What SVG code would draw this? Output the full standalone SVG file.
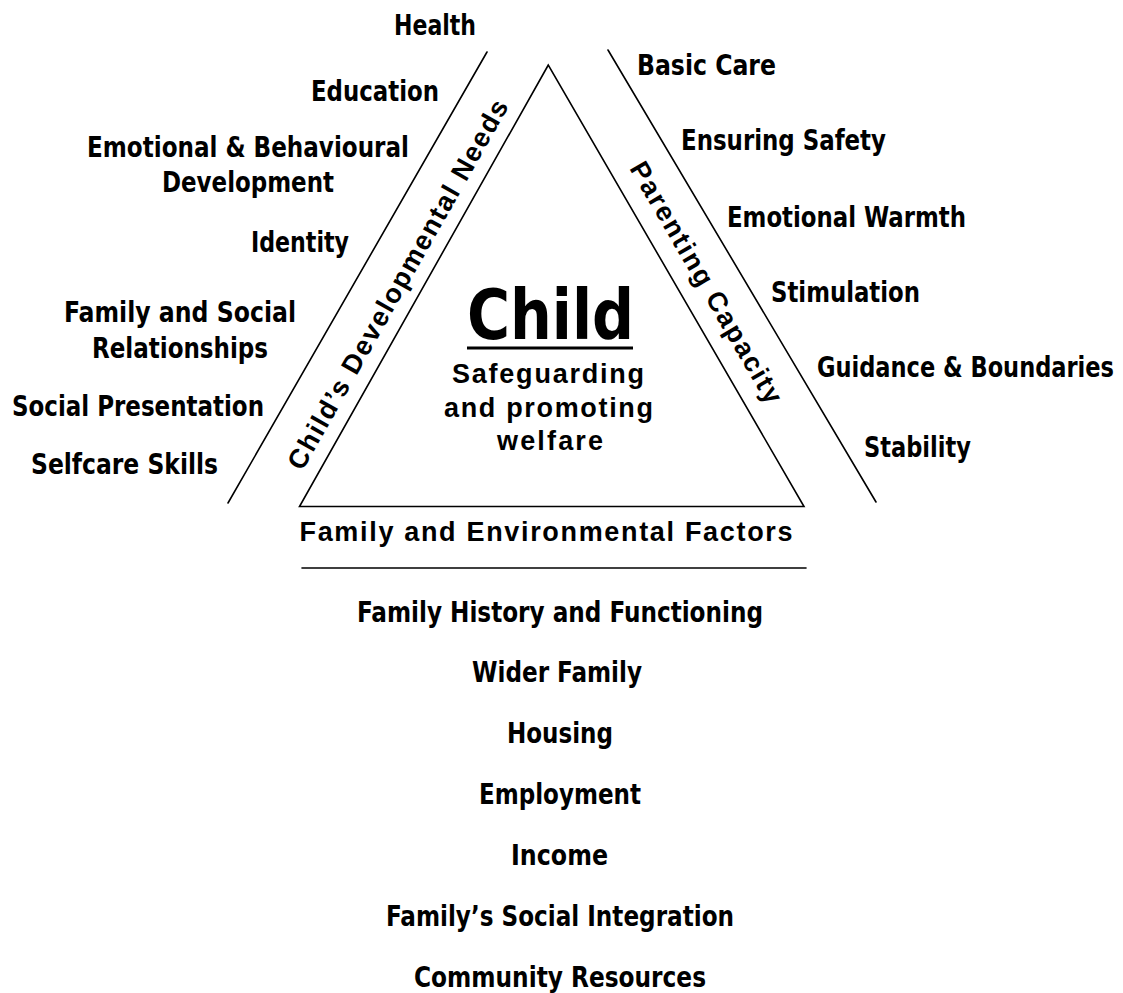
<svg xmlns="http://www.w3.org/2000/svg" width="1123" height="993" viewBox="0 0 1123 993">
<style>
.bg{fill:#ffffff}
.ln{stroke:#000;stroke-width:1.6;fill:none;stroke-linecap:round;stroke-linejoin:miter}
.lbl{font-family:"Liberation Sans Narrow","DejaVu Sans Condensed","Liberation Sans",Arial,sans-serif;font-weight:bold;font-size:28px;fill:#000}
.wide{font-family:"Liberation Sans",Arial,sans-serif;font-weight:bold;font-size:27px;fill:#000}
.big{font-family:"Liberation Sans Narrow","DejaVu Sans Condensed","Liberation Sans",Arial,sans-serif;font-weight:bold;font-size:69px;fill:#000}
</style>
<rect class="bg" x="0" y="0" width="1123" height="993"/>
<g id="connectors">
  <polygon class="ln" points="548.3,65 299.5,506.5 804,506.5"/>
  <line class="ln" x1="487" y1="52" x2="228" y2="503"/>
  <line class="ln" x1="608" y1="50" x2="876" y2="502"/>
  <line class="ln" x1="302" y1="568" x2="806" y2="568"/>
</g>
<g id="child-centre">
  <text class="big" x="550.5" y="339" text-anchor="middle" textLength="167" lengthAdjust="spacingAndGlyphs">Child</text>
  <rect x="467" y="346.5" width="166" height="3" fill="#000"/>
  <text class="wide" x="548" y="383" text-anchor="middle" textLength="192" lengthAdjust="spacing">Safeguarding</text>
  <text class="wide" x="548.5" y="417" text-anchor="middle" textLength="209" lengthAdjust="spacing">and promoting</text>
  <text class="wide" x="550" y="450" text-anchor="middle" textLength="106" lengthAdjust="spacing">welfare</text>
</g>
<g id="side-developmental-needs">
  <text class="wide" transform="translate(397,284) rotate(-60.5)" x="0" y="10" text-anchor="middle" textLength="420" lengthAdjust="spacing">Child’s Developmental Needs</text>
</g>
<g id="side-parenting-capacity">
  <text class="wide" transform="translate(707,282) rotate(59.7)" x="0" y="10" text-anchor="middle" textLength="275" lengthAdjust="spacing">Parenting Capacity</text>
</g>
<g id="side-family-environmental">
  <text class="wide" x="546" y="541" text-anchor="middle" textLength="493" lengthAdjust="spacing">Family and Environmental Factors</text>
</g>
<g id="needs-items">
  <text class="lbl" x="435" y="35" text-anchor="middle" textLength="82" lengthAdjust="spacingAndGlyphs">Health</text>
  <text class="lbl" x="375" y="101" text-anchor="middle" textLength="128" lengthAdjust="spacingAndGlyphs">Education</text>
  <text class="lbl" x="248" y="157" text-anchor="middle" textLength="322" lengthAdjust="spacingAndGlyphs">Emotional &amp; Behavioural</text>
  <text class="lbl" x="248" y="192" text-anchor="middle" textLength="172" lengthAdjust="spacingAndGlyphs">Development</text>
  <text class="lbl" x="300" y="252" text-anchor="middle" textLength="98" lengthAdjust="spacingAndGlyphs">Identity</text>
  <text class="lbl" x="180" y="322" text-anchor="middle" textLength="232" lengthAdjust="spacingAndGlyphs">Family and Social</text>
  <text class="lbl" x="180" y="358" text-anchor="middle" textLength="176" lengthAdjust="spacingAndGlyphs">Relationships</text>
  <text class="lbl" x="138" y="415.5" text-anchor="middle" textLength="252" lengthAdjust="spacingAndGlyphs">Social Presentation</text>
  <text class="lbl" x="124.5" y="474" text-anchor="middle" textLength="187" lengthAdjust="spacingAndGlyphs">Selfcare Skills</text>
</g>
<g id="parenting-items">
  <text class="lbl" x="637" y="75" textLength="139" lengthAdjust="spacingAndGlyphs">Basic Care</text>
  <text class="lbl" x="681" y="150" textLength="205" lengthAdjust="spacingAndGlyphs">Ensuring Safety</text>
  <text class="lbl" x="727" y="226.5" textLength="239" lengthAdjust="spacingAndGlyphs">Emotional Warmth</text>
  <text class="lbl" x="771" y="301.5" textLength="149" lengthAdjust="spacingAndGlyphs">Stimulation</text>
  <text class="lbl" transform="translate(817,376.5) scale(1,1.12)" x="0" y="0" style="font-size:25px" textLength="297" lengthAdjust="spacingAndGlyphs">Guidance &amp; Boundaries</text>
  <text class="lbl" x="864" y="457" textLength="107" lengthAdjust="spacingAndGlyphs">Stability</text>
</g>
<g id="family-items">
  <text class="lbl" x="560" y="621.5" text-anchor="middle" textLength="406" lengthAdjust="spacingAndGlyphs">Family History and Functioning</text>
  <text class="lbl" x="557" y="682" text-anchor="middle" textLength="170" lengthAdjust="spacingAndGlyphs">Wider Family</text>
  <text class="lbl" x="560" y="743" text-anchor="middle" textLength="106" lengthAdjust="spacingAndGlyphs">Housing</text>
  <text class="lbl" x="560" y="803.5" text-anchor="middle" textLength="162" lengthAdjust="spacingAndGlyphs">Employment</text>
  <text class="lbl" x="559.5" y="865" text-anchor="middle" textLength="97" lengthAdjust="spacingAndGlyphs">Income</text>
  <text class="lbl" x="560" y="925.5" text-anchor="middle" textLength="348" lengthAdjust="spacingAndGlyphs">Family’s Social Integration</text>
  <text class="lbl" x="560" y="987" text-anchor="middle" textLength="292" lengthAdjust="spacingAndGlyphs">Community Resources</text>
</g>
</svg>
